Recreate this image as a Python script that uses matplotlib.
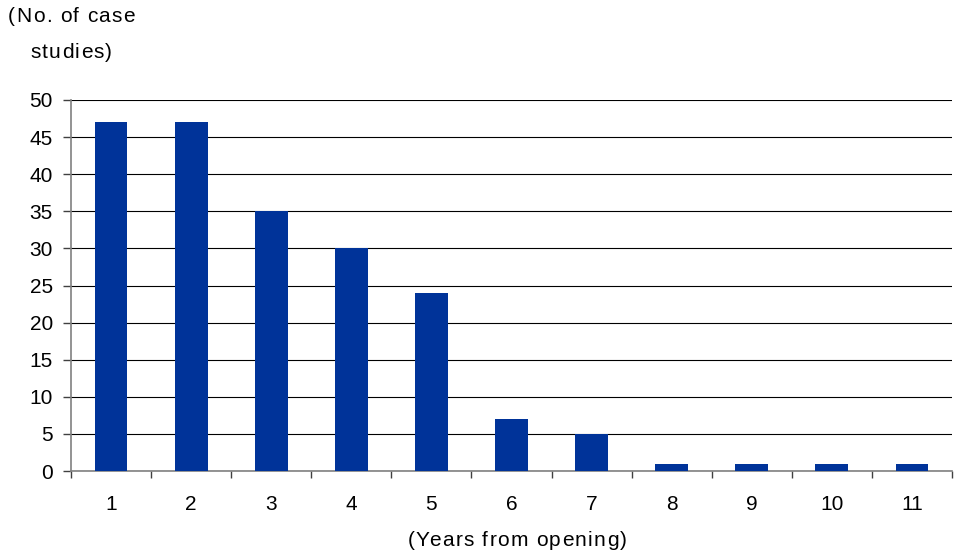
import matplotlib.pyplot as plt
from matplotlib.transforms import IdentityTransform
import numpy as np

years = list(range(1, 12))
case_counts = [47, 47, 35, 30, 24, 7, 5, 1, 1, 1, 1]
y_title = ["(No. of case", "studies)"]
x_title = "(Years from opening)"

plt.rcParams['font.family'] = ['Liberation Sans', 'DejaVu Sans']

fig = plt.figure(figsize=(9.65, 5.54), dpi=100)
ax = fig.add_axes([0.0736, 0.1498, 0.9129, 0.6697])


def spaced_text(x, y, s, track=1.3, ha='left', size=15):
    # matplotlib has no letter spacing, so place the glyphs one by one (pixel coords)
    r = fig.canvas.get_renderer()

    def width(txt):
        t = fig.text(0, 0, txt, fontsize=size)
        w = t.get_window_extent(r).width
        t.remove()
        return w

    base = width("aa")
    widths = [width("a" + ch + "a") - base for ch in s]
    total = sum(widths) + track * (len(s) - 1)
    x0 = x - total / 2 if ha == 'center' else x
    for ch, w in zip(s, widths):
        fig.text(x0, y, ch, fontsize=size, va='center', ha='left',
                 transform=IdentityTransform())
        x0 += w + track


ax.bar(years, case_counts, width=0.41, color='#003399', zorder=3)

ax.set_xlim(0.5, 11.5)
ax.set_ylim(0, 50)
ax.set_yticks(np.arange(0, 51, 5))
ax.set_xticks(years)
ax.set_xticks(np.arange(0.5, 12, 1), minor=True)

ax.yaxis.grid(True, color='black', linewidth=0.8, zorder=0)
for s in ['top', 'right']:
    ax.spines[s].set_visible(False)
for s in ['left', 'bottom']:
    ax.spines[s].set_color('#808080')
    ax.spines[s].set_linewidth(1.2)

ax.tick_params(axis='x', which='major', length=0, pad=17, labelsize=15)
ax.tick_params(axis='x', which='minor', length=5, color='#404040', width=1)
ax.tick_params(axis='y', length=6, color='#404040', width=1, labelsize=15, pad=7)

H = 554
spaced_text(8, H - 17, y_title[0])
spaced_text(30, H - 52, y_title[1])
spaced_text(517, H - 540, x_title, ha='center')

fig.savefig('out.png', dpi=100)
